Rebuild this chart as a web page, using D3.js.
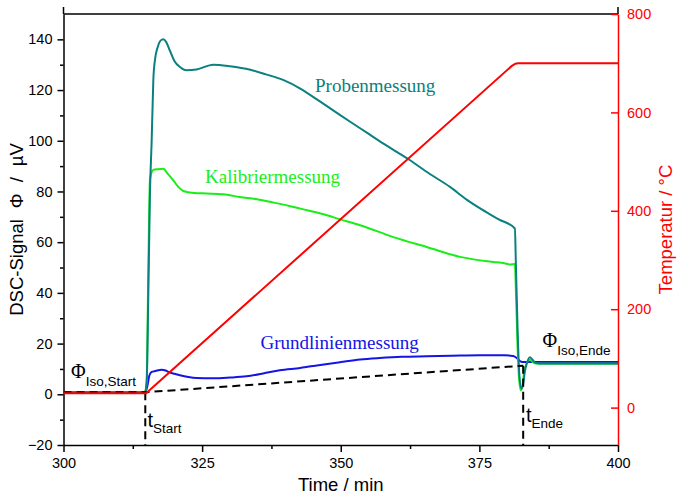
<!DOCTYPE html>
<html><head><meta charset="utf-8">
<script src="https://cdn.jsdelivr.net/npm/d3@7"></script>
<style>
body{margin:0;background:#fff;}
svg{display:block;}
</style></head>
<body>
<svg id="c" width="677" height="496"></svg>
<script>
// ---------- data ----------
const xTicks = [300, 325, 350, 375, 400];
const xMinor = [312.5, 337.5, 362.5, 387.5];
const yLeftTicks = [-20, 0, 20, 40, 60, 80, 100, 120, 140];
const yLeftMinor = [-10, 10, 30, 50, 70, 90, 110, 130];
const yRightTicks = [0, 200, 400, 600, 800];

const probeT = [300, 314.7, 315.0, 315.3, 315.6, 315.9, 316.2, 316.5, 317.0, 317.5, 318.0, 318.5, 319.2, 320.0, 321.0, 322.2, 324.0, 327.0, 330.0, 333.7, 336.5, 339.7, 342.7, 345.7, 348.7, 351.7, 354.7, 357.7, 360.1, 362.5, 366.0, 369.7, 372.7, 375.5, 378.5, 381.4, 381.6, 381.9, 382.2, 382.6, 382.9, 383.2, 383.6, 384.1, 384.6, 385.1, 386.0, 390, 400];
const probeV = [0.8, 0.8, 5, 40, 80, 100, 124, 132, 137, 139.5, 140, 139, 135.5, 131.5, 129.1, 127.8, 128.1, 130, 129.4, 128.0, 126.2, 123.9, 120.6, 116.3, 111.9, 107.5, 103.2, 98.9, 95.6, 92.3, 87, 81.8, 76.8, 72.8, 69.0, 65.4, 50, 25, 8, 2.2, 4, 9, 12.5, 14.6, 13.6, 12.4, 12.1, 12.1, 12.1];

const kalibT = [300, 314.7, 315.0, 315.3, 315.6, 316.2, 317.0, 318.0, 318.8, 319.8, 320.7, 321.6, 323.5, 325.8, 328.8, 331.8, 334.9, 337.9, 340.9, 343.9, 346.9, 349.9, 353.5, 359.5, 365.5, 371.5, 377.5, 379.5, 380.5, 381.4, 381.6, 381.9, 382.2, 382.5, 382.8, 383.1, 383.5, 384.0, 384.5, 385.0, 386.0, 400];
const kalibV = [0.8, 0.8, 5, 50, 85, 88.5, 88.8, 89, 87, 84.4, 81.8, 80.2, 79.4, 79.2, 78.9, 77.8, 76.9, 75.6, 74.2, 72.6, 71, 69, 66.7, 62, 58.1, 54.2, 52.2, 51.7, 51.2, 51.4, 40, 18, 5, 1.5, 4, 9, 12, 13.6, 13, 12.2, 12, 12];

const grundT = [300, 314.7, 315.1, 315.5, 315.9, 316.6, 317.7, 318.4, 319.0, 320.0, 321.0, 322.5, 324.0, 327.0, 330.0, 333.0, 336.0, 339.0, 342.7, 346.0, 350.0, 353.5, 357.0, 361.0, 365.5, 370.0, 375.0, 379.5, 381.1, 381.8, 382.4, 383.0, 386.0, 400];
const grundV = [0.8, 0.8, 3, 7.5, 8.8, 9.2, 9.7, 9.4, 8.8, 8.1, 7.5, 6.8, 6.4, 6.3, 6.6, 7.1, 8.2, 9.5, 10.4, 11.5, 12.7, 13.7, 14.3, 14.8, 15, 15.2, 15.4, 15.4, 15.1, 14.2, 13, 12.7, 12.7, 12.7];

const tempT = [300, 314.9, 380.8, 381.5, 382.0, 400];
const tempV = [29, 29, 694, 699, 700, 700];

const baseT = [300, 314.75, 382.9];
const baseV = [0.8, 0.8, 11.3];
const markT = [314.75, 382.9];
const markV = [0.8, 11.3];

// ---------- layout ----------
const svg = d3.select("#c");
const L = 63.5, R = 618, T = 14, B = 445;
const x = d3.scaleLinear().domain([300, 400]).range([L, R]);
const yL = d3.scaleLinear().domain([-20, 150]).range([B, T]);
const yR = d3.scaleLinear().domain([-76, 800]).range([B, T]);

const sans = "'Liberation Sans', Arial, sans-serif";
const serif = "'Liberation Serif', 'Times New Roman', serif";

// frame top
svg.append("line").attr("x1", L).attr("x2", R).attr("y1", T).attr("y2", T).attr("stroke", "#000").attr("stroke-width", 1.5);
svg.append("line").attr("x1", L).attr("x2", L).attr("y1", 7).attr("y2", T).attr("stroke", "#000").attr("stroke-width", 1.5);
svg.append("line").attr("x1", R).attr("x2", R).attr("y1", 7).attr("y2", T).attr("stroke", "#000").attr("stroke-width", 1.5);

// axes
function styleAxis(g, color) {
  g.selectAll("path.domain").attr("stroke", color).attr("stroke-width", 1.5);
  g.selectAll(".tick line").attr("stroke", color).attr("stroke-width", 1.5);
  g.selectAll(".tick text").attr("fill", color).style("font-family", sans).style("font-size", "14.5px");
}

const gx = svg.append("g").attr("transform", `translate(0,${B})`)
  .call(d3.axisBottom(x).tickValues(xTicks).tickSize(7).tickSizeOuter(0).tickPadding(6).tickFormat(d3.format("d")));
styleAxis(gx, "#000");
svg.append("g").attr("transform", `translate(0,${B})`)
  .call(d3.axisBottom(x).tickValues(xMinor).tickSize(4).tickSizeOuter(0).tickFormat(""))
  .call(g => { g.select("path.domain").remove(); g.selectAll(".tick line").attr("stroke", "#000").attr("stroke-width", 1.5); });

const gyl = svg.append("g").attr("transform", `translate(${L},0)`)
  .call(d3.axisLeft(yL).tickValues(yLeftTicks).tickSize(6).tickSizeOuter(0).tickPadding(5).tickFormat(d3.format("d")));
styleAxis(gyl, "#000");
svg.append("g").attr("transform", `translate(${L},0)`)
  .call(d3.axisLeft(yL).tickValues(yLeftMinor).tickSize(3.5).tickSizeOuter(0).tickFormat(""))
  .call(g => { g.select("path.domain").remove(); g.selectAll(".tick line").attr("stroke", "#000").attr("stroke-width", 1.5); });

const gyr = svg.append("g").attr("transform", `translate(${R},0)`)
  .call(d3.axisRight(yR).tickValues(yRightTicks).tickSizeInner(-7).tickSizeOuter(0).tickPadding(9).tickFormat(d3.format("d")));
styleAxis(gyr, "#ff0000");

// axis titles
svg.append("text").attr("x", x(350)).attr("y", 491).attr("text-anchor", "middle")
  .style("font-family", sans).style("font-size", "18.5px").text("Time / min");
const lt = svg.append("text").attr("transform", `translate(23,${(T + B) / 2}) rotate(-90)`).attr("text-anchor", "middle")
  .style("font-family", sans).style("font-size", "18.5px");
lt.append("tspan").text("DSC-Signal");
lt.append("tspan").attr("dx", 11).text("Φ");
lt.append("tspan").attr("dx", 11).text("/");
lt.append("tspan").attr("dx", 11).text("µV");
svg.append("text").attr("transform", `translate(672,${(T + B) / 2}) rotate(-90)`).attr("text-anchor", "middle")
  .attr("fill", "#ff0000").style("font-family", sans).style("font-size", "18.5px").text("Temperatur / °C");

// lines
const lineL = (ts, vs, c) => d3.line().curve(c || d3.curveLinear).x((d, i) => x(ts[i])).y((d, i) => yL(vs[i]))(ts);
const lineR = (ts, vs) => d3.line().x((d, i) => x(ts[i])).y((d, i) => yR(vs[i]))(ts);

svg.append("path").attr("d", lineL(grundT, grundV, d3.curveMonotoneX)).attr("fill", "none").attr("stroke", "#1414e6").attr("stroke-width", 2);
svg.append("path").attr("d", lineL(kalibT, kalibV, d3.curveMonotoneX)).attr("fill", "none").attr("stroke", "#1aee1a").attr("stroke-width", 2);
svg.append("path").attr("d", lineL(probeT, probeV, d3.curveMonotoneX)).attr("fill", "none").attr("stroke", "#0a8080").attr("stroke-width", 2);

svg.append("path").attr("d", lineL(baseT, baseV)).attr("fill", "none").attr("stroke", "#000").attr("stroke-width", 2).attr("stroke-dasharray", "8,5");
markT.forEach((t, i) => {
  svg.append("line").attr("x1", x(t)).attr("x2", x(t)).attr("y1", yL(markV[i])).attr("y2", B)
    .attr("stroke", "#000").attr("stroke-width", 2).attr("stroke-dasharray", "8,5");
});

svg.append("path").attr("d", lineR(tempT, tempV)).attr("fill", "none").attr("stroke", "#ff0000").attr("stroke-width", 2);

// curve labels
svg.append("text").attr("x", 315).attr("y", 92).attr("fill", "#0a8080").style("font-family", serif).style("font-size", "19px").text("Probenmessung");
svg.append("text").attr("x", 205).attr("y", 183).attr("fill", "#1aee1a").style("font-family", serif).style("font-size", "19px").text("Kalibriermessung");
svg.append("text").attr("x", 260.5).attr("y", 349).attr("fill", "#1414e6").style("font-family", serif).style("font-size", "19px").text("Grundlinienmessung");

// annotations
function phi(xp, yp, sub) {
  const t = svg.append("text").attr("x", xp).attr("y", yp);
  t.append("tspan").style("font-family", serif).style("font-size", "20px").text("Φ");
  t.append("tspan").attr("dy", 8).style("font-family", sans).style("font-size", "13.5px").text(sub);
}
phi(71, 377.5, "Iso,Start");
phi(542.5, 347, "Iso,Ende");

function tlab(xp, yp, sub) {
  const t = svg.append("text").attr("x", xp).attr("y", yp);
  t.append("tspan").style("font-family", sans).style("font-size", "20px").text("t");
  t.append("tspan").attr("dy", 6).style("font-family", sans).style("font-size", "13.5px").text(sub);
}
tlab(147.5, 427, "Start");
tlab(526, 422, "Ende");
</script>
</body></html>
